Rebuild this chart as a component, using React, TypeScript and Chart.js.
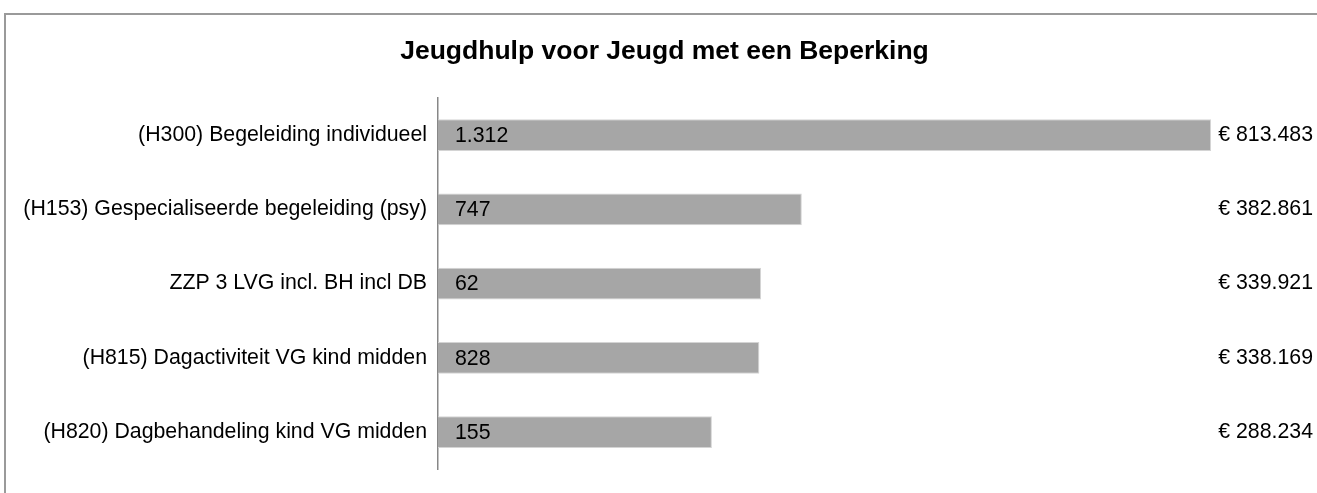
import React, { useEffect, useRef } from "react";
import { Chart, registerables } from "chart.js";

Chart.register(...registerables);

const TITLE = "Jeugdhulp voor Jeugd met een Beperking";
const categories = [
  "(H300) Begeleiding individueel",
  "(H153) Gespecialiseerde begeleiding (psy)",
  "ZZP 3 LVG incl. BH incl DB",
  "(H815) Dagactiviteit VG kind midden",
  "(H820) Dagbehandeling kind VG midden",
];
const amounts = [813483, 382861, 339921, 338169, 288234];
const counts = [1312, 747, 62, 828, 155];

const FONT = "'Liberation Sans', Arial, Helvetica, sans-serif";
const FS = 21.3;

function fmtNL(v: number): string {
  const s = Math.round(v).toString();
  return s.replace(/\B(?=(\d{3})+(?!\d))/g, ".");
}
const euroLabels = amounts.map((v) => "€ " + fmtNL(v));
const countLabels = counts.map((v) => fmtNL(v));

const framePlugin = {
  id: "frame",
  beforeDraw(chart: any) {
    const ctx = chart.ctx;
    ctx.save();
    ctx.fillStyle = "#ffffff";
    ctx.fillRect(0, 0, chart.width, chart.height);
    ctx.strokeStyle = "#9a9a9a";
    ctx.lineWidth = 2;
    ctx.strokeRect(5, 14, chart.width + 100, chart.height + 100);
    ctx.restore();
  },
};

const insideLabelPlugin = {
  id: "insideLabels",
  afterDatasetsDraw(chart: any) {
    const ctx = chart.ctx;
    const meta = chart.getDatasetMeta(0);
    ctx.save();
    ctx.font = `${FS}px ${FONT}`;
    ctx.fillStyle = "#000000";
    ctx.textAlign = "left";
    ctx.textBaseline = "middle";
    meta.data.forEach((bar: any, i: number) => {
      ctx.fillText(countLabels[i], bar.base + 17, bar.y + 1);
    });
    ctx.restore();
  },
};

export default function App() {
  const ref = useRef<HTMLCanvasElement | null>(null);
  useEffect(() => {
    if (!ref.current) return;
    const chart = new Chart(ref.current, {
      type: "bar",
      data: {
        labels: categories,
        datasets: [
          {
            data: amounts,
            backgroundColor: "#a6a6a6",
            borderColor: "#d4d4d4",
            borderWidth: 1,
            barPercentage: 0.43,
            categoryPercentage: 1,
          },
        ],
      },
      options: {
        indexAxis: "y",
        animation: false,
        responsive: true,
        maintainAspectRatio: false,
        layout: { padding: { top: 0, bottom: 22, left: 16, right: 4 } },
        plugins: {
          legend: { display: false },
          tooltip: { enabled: false },
          title: {
            display: true,
            text: TITLE,
            color: "#000000",
            font: { family: FONT, size: 26.5, weight: "bold", lineHeight: 1.2 },
            padding: { top: 35.6, bottom: 30.6 },
          },
        },
        scales: {
          x: {
            type: "linear",
            display: false,
            min: 0,
            max: Math.max(...amounts),
          },
          y: {
            type: "category",
            position: "left",
            grid: { display: false, drawTicks: false },
            border: { display: true, color: "#878787", width: 1.5 },
            ticks: {
              color: "#000000",
              font: { family: FONT, size: FS },
              padding: 11,
            },
            afterFit: (scale: any) => {
              scale.width = 422;
            },
          },
          y2: {
            type: "category",
            position: "right",
            labels: euroLabels,
            grid: { display: false, drawTicks: false },
            border: { display: false },
            ticks: {
              color: "#000000",
              font: { family: FONT, size: FS },
              padding: 7,
              crossAlign: "far",
            },
            afterFit: (scale: any) => {
              scale.width = 102;
            },
          },
        },
      } as any,
      plugins: [framePlugin, insideLabelPlugin],
    });
    return () => chart.destroy();
  }, []);
  return (
    <div
      style={{
        position: "absolute",
        left: 0,
        top: 0,
        width: "1317px",
        height: "493px",
      }}
    >
      <canvas ref={ref} style={{ display: "block" }} />
    </div>
  );
}
